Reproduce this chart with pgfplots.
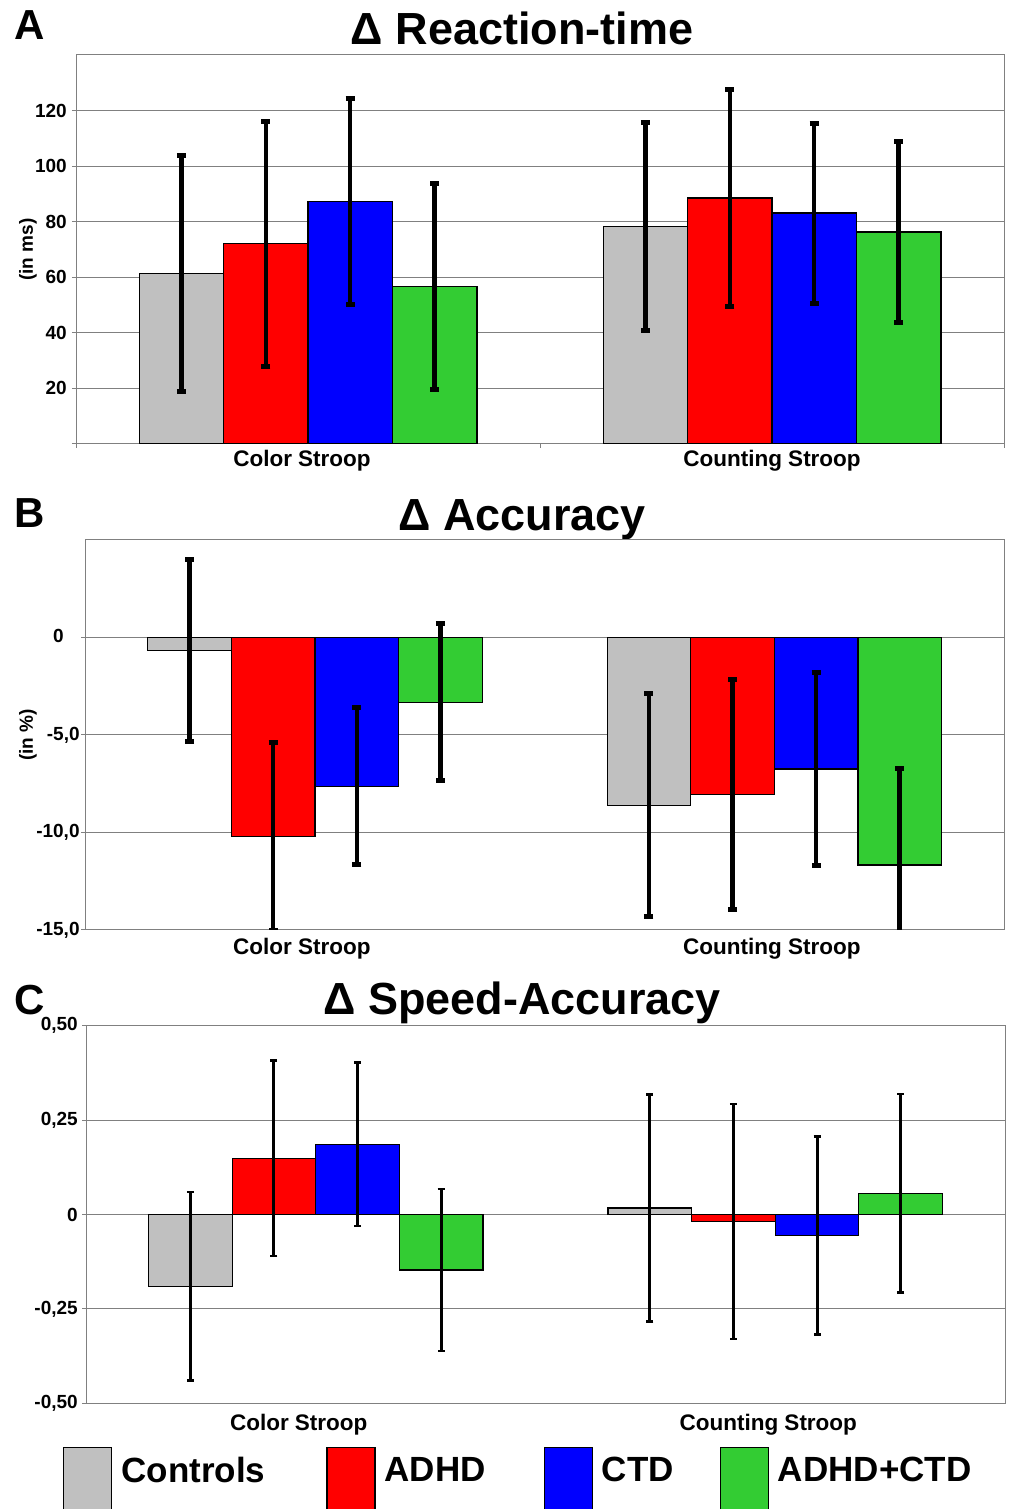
\documentclass[border=0pt]{standalone}
\usepackage{fontspec}
\setmainfont{Liberation Sans}
\usepackage{pgfplots}
\pgfplotsset{compat=1.18}

\definecolor{ctlgray}{RGB}{192,192,192}
\definecolor{adhdred}{RGB}{255,0,0}
\definecolor{ctdblue}{RGB}{0,0,255}
\definecolor{bothgreen}{RGB}{51,204,51}
\definecolor{framegray}{RGB}{128,128,128}

\newcommand{\fs}[1]{\fontsize{#1}{#1}\selectfont\bfseries}
% trailing invisible rule: moves a centred tick label to the left by half its width
\newcommand{\pad}[1]{\rule{#1}{0pt}}

\pgfplotsset{
  panel/.style={
    scale only axis, ybar, bar width=0.182,
    xmin=-0.5, xmax=1.5,
    xtick={0,1},
    xtick style={draw=none},
    xtick pos=bottom, ytick pos=left,
    tick align=outside, major tick length=4pt,
    ytick style={draw=framegray, line width=1pt},
    axis line style={framegray, line width=1pt},
    ymajorgrids, major grid style={framegray, line width=1pt},
    tick label style={font=\fs{19}},
    xticklabel style={font=\fs{22.5}, inner sep=0pt, anchor=north},
    yticklabel style={inner sep=0pt, anchor=east},
    /pgf/number format/assume math mode=true,
    ylabel style={font=\fs{19}, anchor=center},
    error bars/y dir=both, error bars/y explicit,
    error bars/error mark=|,
  },
  thickerr/.style={
    error bars/error bar style={line width=4.5pt, black},
    error bars/error mark options={line width=5pt, mark size=4.5pt, black},
  },
  thinerr/.style={
    error bars/error bar style={line width=3pt, black},
    error bars/error mark options={line width=2.5pt, mark size=3.5pt, black},
  },
  grp/.style={draw=black, line width=1.2pt,
    legend image code/.code={\draw[##1, line width=1.2pt] (0pt,-39.5pt) rectangle (48pt,22.5pt);}},
  ctl/.style={grp, fill=ctlgray, bar shift=-0.273},
  adhd/.style={grp, fill=adhdred, bar shift=-0.091},
  ctd/.style={grp, fill=ctdblue, bar shift=0.091},
  both/.style={grp, fill=bothgreen, bar shift=0.273},
}

\begin{document}
\begin{tikzpicture}
\useasboundingbox (0,0) rectangle (1011pt,1509pt);

% panel letters and titles
\node[anchor=base west, inner sep=0pt, font=\fs{42}] at (14pt,1469pt) {A};
\node[anchor=base west, inner sep=0pt, font=\fs{42}] at (14pt,981pt) {B};
\node[anchor=base west, inner sep=0pt, font=\fs{42}] at (14pt,494pt) {C};
\node[anchor=base, inner sep=0pt, font=\fs{45}] at (522pt,1464pt) {Δ Reaction-time};
\node[anchor=base, inner sep=0pt, font=\fs{45}] at (522pt,978pt) {Δ Accuracy};
\node[anchor=base, inner sep=0pt, font=\fs{45}] at (522pt,494pt) {Δ Speed-Accuracy};

% A: reaction time
\begin{axis}[panel, thickerr,
  at={(76pt,1065pt)}, anchor=south west, width=928pt, height=389pt,
  ymin=0, ymax=140, ytick={0,20,...,120}, yticklabels={,20,40,60,80,100,120},
  xticklabels={{Color Stroop\pad{12pt}}, Counting Stroop},
  yticklabel style={xshift=-5pt},
  xticklabel style={yshift=-2pt},
  extra x ticks={-0.5,0.5,1.5}, extra x tick labels={},
  extra x tick style={grid=none, xtick style={draw=framegray, line width=1pt}},
  ylabel={(in ms)}, ylabel style={at={(axis description cs:-0.0517,0.5)}},
]
\addplot[ctl]  coordinates {(0,61.4) +- (0,42.6) (1,78.4) +- (0,37.4)};
\addplot[adhd] coordinates {(0,72.1) +- (0,44.1) (1,88.5) +- (0,39.0)};
\addplot[ctd]  coordinates {(0,87.3) +- (0,37.0) (1,83.1) +- (0,32.4)};
\addplot[both] coordinates {(0,56.6) +- (0,37.0) (1,76.3) +- (0,32.4)};
\end{axis}

% B: accuracy
\begin{axis}[panel, thickerr,
  at={(85.3pt,579pt)}, anchor=south west, width=918.7pt, height=390pt,
  ymin=-15, ymax=5, ytick={-15,-10,-5,0},
  yticklabels={{-15,0},{-10,0},{-5,0},{0\phantom{,0}}},
  xticklabels={{Color Stroop\pad{26pt}}, {Counting Stroop\pad{5pt}}},
  yticklabel style={xshift=-1.5pt},
  xticklabel style={yshift=-4pt},
  ylabel={(in \%)}, ylabel style={at={(axis description cs:-0.0624,0.5)}},
]
\addplot[ctl]  coordinates {(0,-0.68) +- (0,4.66) (1,-8.60) +- (0,5.72)};
\addplot[adhd] coordinates {(0,-10.22) +- (0,4.83) (1,-8.04) +- (0,5.90)};
\addplot[ctd]  coordinates {(0,-7.63) +- (0,4.03) (1,-6.74) +- (0,4.93)};
\addplot[both] coordinates {(0,-3.32) +- (0,4.03) (1,-11.67) +- (0,4.95)};
\end{axis}

% C: speed-accuracy
\begin{axis}[panel, thinerr,
  at={(86pt,105.7pt)}, anchor=south west, width=919pt, height=377.6pt,
  ymin=-0.5, ymax=0.5, ytick={-0.5,-0.25,0,0.25,0.5},
  yticklabels={{-0,50},{-0,25},0,{0,25},{0,50}},
  xticklabels={{Color Stroop\pad{34pt}}, {Counting Stroop\pad{14pt}}},
  yticklabel style={xshift=-4pt},
  xticklabel style={yshift=-7pt},
  legend columns=4,
  legend style={at={(axis description cs:-0.025,-0.1157)}, anchor=north west,
    draw=none, fill=none, inner sep=0pt, font=\fs{35},
    nodes={inner sep=0pt},
    /tikz/every odd column/.append style={column sep=9pt},
    /tikz/column 2/.style={column sep=61pt},
    /tikz/column 4/.style={column sep=58pt},
    /tikz/column 6/.style={column sep=46pt}},
]
\addplot[ctl]  coordinates {(0,-0.190) +- (0,0.250) (1,0.017) +- (0,0.301)};
\addlegendentry{Controls}
\addplot[adhd] coordinates {(0,0.149) +- (0,0.259) (1,-0.019) +- (0,0.311)};
\addlegendentry{ADHD}
\addplot[ctd]  coordinates {(0,0.186) +- (0,0.217) (1,-0.056) +- (0,0.262)};
\addlegendentry{CTD}
\addplot[both] coordinates {(0,-0.147) +- (0,0.215) (1,0.056) +- (0,0.263)};
\addlegendentry{ADHD+CTD}
\end{axis}
\end{tikzpicture}
\end{document}
